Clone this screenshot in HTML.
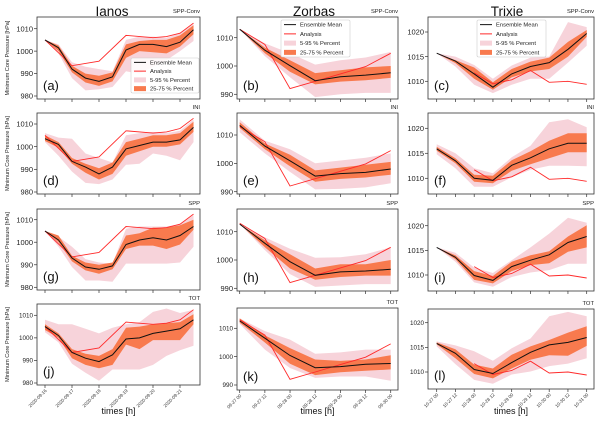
<!DOCTYPE html>
<html><head><meta charset="utf-8"><style>
html,body{margin:0;padding:0;background:#fff;width:600px;height:426px;overflow:hidden}
svg{display:block;font-family:"Liberation Sans","DejaVu Sans",sans-serif}
</style></head><body>
<svg id="chart" width="600" height="426" viewBox="0 0 600 426"></svg>
<script>
// ---- data ----
const storms = ["Ianos","Zorbas","Trixie"];
const experiments = ["SPP-Conv","INI","SPP","TOT"];
const panelLetters = ["a","b","c","d","e","f","g","h","i","j","k","l"];
const ianosTimes = ["2020-09-16","2020-09-17","2020-09-18","2020-09-19","2020-09-20","2020-09-21"];
const zorbasTimes = ["09-27 00","09-27 12","09-28 00","09-28 12","09-29 00","09-29 12","09-30 00"];
const trixieTimes = ["10-27 00","10-27 12","10-28 00","10-28 12","10-29 00","10-29 12","10-30 00","10-30 12","10-31 00"];
const ianosTicks = [980,990,1000,1010];
const zorbasTicks = [990,1000,1010];
const trixieTicks = [1010,1015,1020];

const ianosAnalysis = [1005,null,993.5,null,995.5,null,1007,null,1006,1006.5,1008,1012.5];
const zorbasAnalysis = [1013,1007.6,992,994.6,997.2,999.8,1004.5];
const trixieAnalysis = [null,null,1011.7,1009.5,1010.3,1012.2,1009.8,1010,1009.4];

// Ianos
const meanA = [1005,1001.5,992,988,986.5,988.5,1000.5,1003,1003,1002,1004,1009.5];
const q25A = [1005,1000,990.5,986,984.5,986.5,997,1000,999.5,999,1002,1007.5];
const q75A = [1005,1002.5,993.5,990,989,990.5,1003,1004.5,1005,1005,1007,1011.5];
const p05A = [1005,999,988,982.5,983,984,991,990,993,996,1000,1004.5];
const p95A = [1005,1003,995,993,992,991,1005,1006.5,1006.5,1006,1008,1012];
const meanD = [1003.5,1001,993.5,991,988,991,999,1000.5,1002,1002,1003,1008.5];
const q25D = [1002.5,999.5,992.5,988.5,985.5,988,996,998,1000,1000,1001,1006.5];
const q75D = [1005,1002,995,992.5,990.5,993,1002,1003.5,1005,1005,1006,1011];
const p05D = [1002,996,989,984,983.5,985.5,992,992.5,997,996,994,1002];
const p95D = [1006,1004,1003.5,997,995,993,1005,1006,1006.5,1006,1007,1012];
const meanG = [1005,1001,993,989,988,989.5,999,1001,1002,1001,1003,1007];
const q25G = [1005,1000,991.5,987.5,986,988,997,998.5,998.5,997,999,1005.5];
const q75G = [1005,1003,994,991,990,991,1003,1004,1006.5,1006.5,1007.5,1010];
const p05G = [1005,998,989,983,983,982.5,990.5,990.5,990.5,990.5,991,998];
const p95G = [1005,1002.5,998,992.5,991,990.5,1006,1007,1007,1007,1008,1012];
const meanJ = [1005,1001,993.5,991,989.5,992.5,999.5,1000,1002,1003,1004,1008];
const q25J = [1003.5,1000,991,988,986.5,988,997,995,999,999,999,1006];
const q75J = [1006,1002,995,993,992,995,1004.5,1005,1006,1006.5,1007,1010.5];
const p05J = [1002.5,998,988.5,984.5,981,986,986,986,988,992,994.5,996.5];
const p95J = [1008,1006,1006,1004,1002,1004.5,1006,1007,1011.5,1013,1011,1012.5];
// Zorbas
const meanB = [1013,1005.6,1000.1,994.8,996.2,996.8,997.6];
const q25B = [1013,1004.5,998,993.5,994.5,995,995.8];
const q75B = [1013,1006.5,1002,997.5,998.5,999.5,1000];
const p05B = [1013,1003.5,996,989,990,990.5,990.5];
const p95B = [1013,1008,1004.5,1000.5,1002,1003,1005];
const meanE = [1013.4,1006.1,1000.9,995.5,996.4,996.8,998];
const q25E = [1012.5,1005,999,993.5,994.5,995,996];
const q75E = [1014.5,1007,1003,997.5,998.5,999.5,1000.5];
const p05E = [1011,1003.5,997,990.8,991,991.5,993];
const p95E = [1015.5,1008,1005,1000,1001,1002,1003.5];
const meanH = [1012.7,1005.9,999.4,994.6,995.8,996.1,996.7];
const q25H = [1012.7,1004.5,997,993,994,994.5,994.5];
const q75H = [1012.7,1007,1002,997,998.5,998.5,1000];
const p05H = [1012.7,1003.5,995,990.5,991,991.5,991.5];
const p95H = [1012.7,1008,1004,1000.8,1001,1002,1004.5];
const meanK = [1012.6,1006.5,1000.4,996.1,996.5,997.3,997.6];
const q25K = [1012,1005,997.5,993.5,994.5,995,995.5];
const q75K = [1013.5,1007.5,1003,999,998.5,999,1000.5];
const p05K = [1011.5,1002.5,996,992.5,993,993,991.5];
const p95K = [1013.5,1009,1006,1001,1001.5,1002.5,1002.5];
// Trixie
const meanC = [1015.7,1014.1,1011.5,1008.8,1011.5,1013,1013.8,1016.5,1019.7];
const q25C = [1015.7,1013.7,1010.5,1008.3,1010.8,1012,1012.5,1015,1019];
const q75C = [1015.7,1014.3,1012.8,1009.8,1012.5,1014,1014.8,1018,1020.4];
const p05C = [1015.7,1013,1009.3,1007.6,1009.3,1010.5,1010.5,1013.8,1017.2];
const p95C = [1015.7,1015,1013.3,1010.5,1013.2,1014.8,1015,1022,1021];
const meanF = [1015.9,1013.5,1010,1009.6,1012.6,1014.1,1015.9,1017,1017];
const q25F = [1015.5,1013,1009.3,1009,1011.5,1012.8,1014,1015.2,1015.2];
const q75F = [1016.3,1014,1010.7,1010.5,1013.6,1015.4,1017.5,1019,1019];
const p05F = [1014.8,1012,1008.3,1008.3,1010.2,1011.7,1012.5,1012.5,1012.4];
const p95F = [1016.8,1015,1012,1011,1014.2,1016.5,1021.2,1021.8,1020.2];
const meanI = [1015.6,1013.6,1009.9,1008.9,1011.7,1013,1014.1,1016.6,1017.8];
const q25I = [1015.6,1013.2,1009,1008.3,1010.8,1012,1012.4,1014.7,1015.6];
const q75I = [1015.6,1014,1010.8,1009.8,1012.7,1014,1014.8,1017.8,1020.1];
const p05I = [1015.6,1012.7,1008.5,1007.6,1009.6,1010.5,1011,1012.3,1012.3];
const p95I = [1015.6,1014.5,1011.5,1010.4,1013,1015.6,1018.4,1021.6,1020.6];
const meanL = [1015.8,1013.8,1010.5,1009.7,1011.9,1014,1015.5,1016,1017];
const q25L = [1015.6,1012.8,1009.6,1008.7,1010.7,1012.5,1013.4,1013.3,1015.3];
const q75L = [1016,1014.6,1011.5,1010.7,1013.5,1015.2,1016.5,1018,1019.3];
const p05L = [1015.2,1011.6,1008.4,1007.6,1009.5,1010.1,1011.2,1011.7,1012.8];
const p95L = [1016.2,1015.4,1014.2,1012.3,1014.8,1016.8,1021.3,1022.2,1021.3];

// ---- layout (not data) ----
const NS = "http://www.w3.org/2000/svg";
const svg = document.getElementById("chart");
function mk(tag, attrs, parent){const e=document.createElementNS(NS,tag);for(const k in attrs)e.setAttribute(k,attrs[k]);(parent||svg).appendChild(e);return e;}
const cols = [
  {x0:37,x1:200,p0:45,step:13.5,tickEvery:2,labels:ianosTimes,ticks:ianosTicks,analysis:ianosAnalysis,
   cal:[[1010,28.7,980,96],[1010,124,980,192],[1010,219.7,980,287.3],[1010,315.3,980,383]]},
  {x0:237,x1:398,p0:239.7,step:25.17,tickEvery:1,labels:zorbasTimes,ticks:zorbasTicks,analysis:zorbasAnalysis,
   cal:[[1010,37.7,990,94.3],[1010,135,990,191.7],[1010,231.7,990,288.3],[1010,328.3,990,385]]},
  {x0:428,x1:594,p0:436.7,step:18.75,tickEvery:1,labels:trixieTimes,ticks:trixieTicks,analysis:trixieAnalysis,
   cal:[[1020,32,1010,81.3],[1020,128.3,1010,178.3],[1020,225.7,1010,275],[1020,322.7,1010,372]]}
];
const rows = [[[17,99],[17,99],[17,99]],[[113,194],[113,194],[113,194]],[[209,290],[209,291],[209,291]],[[304,385],[308,390],[309,389]]];
const panels = [
  [meanA,q25A,q75A,p05A,p95A],[meanB,q25B,q75B,p05B,p95B],[meanC,q25C,q75C,p05C,p95C],
  [meanD,q25D,q75D,p05D,p95D],[meanE,q25E,q75E,p05E,p95E],[meanF,q25F,q75F,p05F,p95F],
  [meanG,q25G,q75G,p05G,p95G],[meanH,q25H,q75H,p05H,p95H],[meanI,q25I,q75I,p05I,p95I],
  [meanJ,q25J,q75J,p05J,p95J],[meanK,q25K,q75K,p05K,p95K],[meanL,q25L,q75L,p05L,p95L]];
const PINK="#f7d3da", ORANGE="#f87a4e", RED="#ff2a2a";

// storm titles
const titleX=[112,314,507];
storms.forEach((s,c)=>{const t=mk("text",{x:titleX[c],y:16,"text-anchor":"middle","font-size":13.5,fill:"#111"});t.textContent=s;

});

for(let r=0;r<4;r++){for(let c=0;c<3;c++){
  const col=cols[c],[top,bot]=rows[r][c],cal=col.cal[r],d=panels[r*3+c];
  const ys=(cal[1]-cal[3])/(cal[0]-cal[2]);
  const Y=v=>cal[1]+(v-cal[0])*ys, X=i=>col.p0+i*col.step;
  const g=mk("g",{});
  
  
  const cp="cp"+r+c;
  const defs=mk("defs",{},g);const clip=mk("clipPath",{id:cp},defs);mk("rect",{x:col.x0,y:top,width:col.x1-col.x0,height:bot-top},clip);
  const band=(lo,hi,fill,name)=>{let p="";lo.forEach((v,i)=>p+=(i?"L":"M")+X(i).toFixed(1)+","+Y(v).toFixed(1));
    for(let i=hi.length-1;i>=0;i--)p+="L"+X(i).toFixed(1)+","+Y(hi[i]).toFixed(1);
    const e=mk("path",{d:p+"Z",fill:fill,"clip-path":"url(#"+cp+")"},g);
    
    };
  band(d[3],d[4],PINK,"band-5-95");
  band(d[1],d[2],ORANGE,"band-25-75");
  let ap="",started=false;col.analysis.forEach((v,i)=>{if(v==null)return;ap+=(started?"L":"M")+X(i).toFixed(1)+","+Y(v).toFixed(1);started=true;});
  const al=mk("path",{d:ap,fill:"none",stroke:RED,"stroke-width":0.9,"clip-path":"url(#"+cp+")"},g);
  
  
  let mp="";d[0].forEach((v,i)=>mp+=(i?"L":"M")+X(i).toFixed(1)+","+Y(v).toFixed(1));
  const ml=mk("path",{d:mp,fill:"none",stroke:"#111","stroke-width":1},g);
  
  
  const fr=mk("rect",{x:col.x0,y:top,width:col.x1-col.x0,height:bot-top,fill:"none",stroke:"#333","stroke-width":0.8},g);
  
  
  // y ticks
  const fs=r==3?6.3:7.5;
  col.ticks.forEach(v=>{const y=Y(v);mk("line",{x1:col.x0-3,x2:col.x0,y1:y,y2:y,stroke:"#333","stroke-width":0.7},g);
    const t=mk("text",{x:col.x0-4,y:y+fs*0.35,"text-anchor":"end","font-size":fs,fill:"#222"},g);t.textContent=v;
    
    });
  // x ticks
  for(let i=0;i<d[0].length;i+=col.tickEvery){const x=X(i);mk("line",{x1:x,x2:x,y1:bot,y2:bot+3,stroke:"#333","stroke-width":0.7},g);
    if(r==3){const lbl=col.labels[i/col.tickEvery];const t=mk("text",{x:x+2,y:bot+6,"text-anchor":"end","font-size":4.6,fill:"#333",transform:"rotate(-45 "+(x+2)+" "+(bot+6)+")"},g);t.textContent=lbl;
      
      }}
  // experiment label
  const el=mk("text",{x:col.x1,y:top-4,"text-anchor":"end","font-size":5.8,fill:"#222"},g);el.textContent=experiments[r];
  
  
  // panel letter
  const pl=mk("text",{x:col.x0+6,y:bot-9,"font-size":13,fill:"#111"},g);pl.textContent="("+panelLetters[r*3+c]+")";
  
  
  if(c==0){const cy=(top+bot)/2;const yl=mk("text",{x:9,y:cy,"text-anchor":"middle","font-size":5.6,fill:"#222",transform:"rotate(-90 9 "+cy+")"},g);yl.textContent="Minimum Core Pressure [hPa]";
    
    }
  if(r==3){const tx=(col.x0+col.x1)/2;const xl=mk("text",{x:tx,y:414,"text-anchor":"middle","font-size":9,fill:"#111"},g);xl.textContent="times [h]";
    
    }
}}

// legends
const legendBoxes=[[131,58,68,35],[281,20,69,37],[477,20,69,37]];
const legendItems=["Ensemble Mean","Analysis","5-95 % Percent","25-75 % Percent"];
legendBoxes.forEach((b,k)=>{
  const g=mk("g",{});
  
  
  mk("rect",{x:b[0],y:b[1],width:b[2],height:b[3],fill:"#fff","fill-opacity":0.85,stroke:"#ccc","stroke-width":0.6,rx:1.5},g);
  const dy=b[3]/4;
  legendItems.forEach((it,j)=>{const cy=b[1]+dy*(j+0.5),x=b[0]+3;
    if(j==0)mk("line",{x1:x,x2:x+12,y1:cy,y2:cy,stroke:"#111","stroke-width":1},g);
    else if(j==1)mk("line",{x1:x,x2:x+12,y1:cy,y2:cy,stroke:RED,"stroke-width":1},g);
    else mk("rect",{x:x,y:cy-2.5,width:12,height:5,fill:j==2?PINK:ORANGE},g);
    const t=mk("text",{x:x+16,y:cy+2,"font-size":5.8,fill:"#222"},g);t.textContent=it;
    
    });
});
</script>
</body></html>
